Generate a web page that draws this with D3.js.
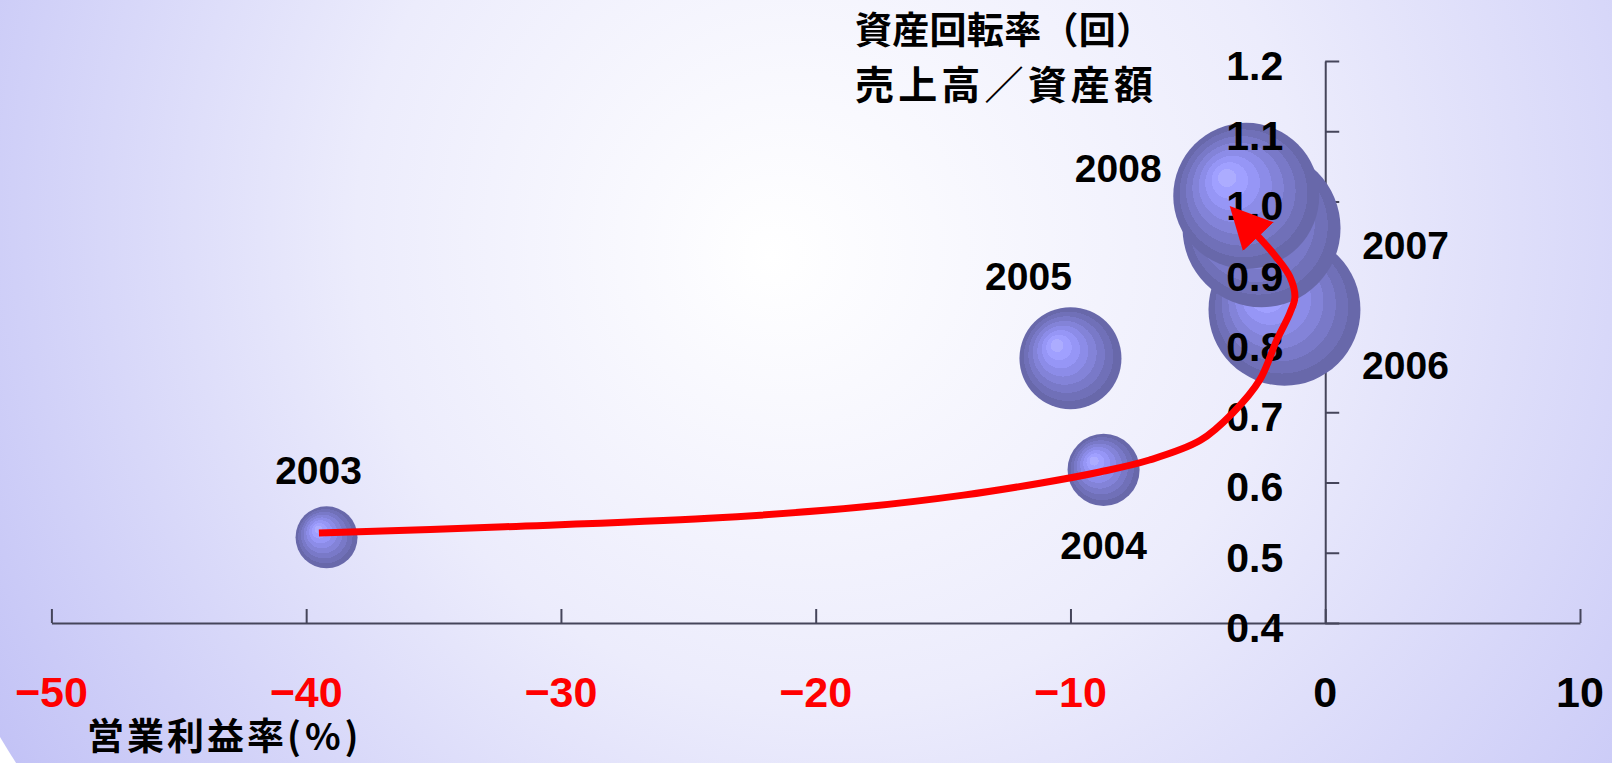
<!DOCTYPE html>
<html>
<head>
<meta charset="utf-8">
<script src="https://cdn.jsdelivr.net/npm/d3@7"></script>
<style>
  body { margin: 0; overflow: hidden; background: #fff; }
</style>
</head>
<body>
<div id="chart"></div>
<script>
// data
var years = ["2003", "2004", "2005", "2006", "2007", "2008"];
var opMargin = [-39.2, -8.7, -10.0, -1.6, -2.5, -3.1];        // 営業利益率(%)
var turnover = [0.522, 0.618, 0.777, 0.846, 0.962, 1.008];    // 資産回転率
var bubbleSize = [154, 208, 417, 925, 1000, 854];             // relative bubble size
var xTicks = [-50, -40, -30, -20, -10, 0, 10];
var yTicks = [0.4, 0.5, 0.6, 0.7, 0.8, 0.9, 1.0, 1.1, 1.2];
// trend arrow, in data units
var trendX = [-39.5, -32.2, -24.2, -18.2, -14.2, -11.2, -8.85, -6.9, -4.9, -3.63, -2.57, -1.9, -1.39, -1.19, -1.39, -1.95, -2.68];
var trendY = [0.528, 0.537, 0.549, 0.565, 0.582, 0.599, 0.615, 0.632, 0.660, 0.699, 0.746, 0.803, 0.841, 0.864, 0.893, 0.922, 0.952];

var width = 1612, height = 763;

var svg = d3.select("#chart").append("svg")
    .attr("width", width)
    .attr("height", height);

var defs = svg.append("defs");

// background glow
var bg = defs.append("radialGradient")
    .attr("id", "bg")
    .attr("gradientUnits", "userSpaceOnUse")
    .attr("cx", 900).attr("cy", 200).attr("r", 1048)
    .attr("fx", 770).attr("fy", 257);
bg.append("stop").attr("offset", 0).attr("stop-color", "#ffffff");
bg.append("stop").attr("offset", 0.45).attr("stop-color", "#ececfc");
bg.append("stop").attr("offset", 1).attr("stop-color", "#c3c3f6");

// banded bubble shading
var ball = defs.append("radialGradient")
    .attr("id", "ball")
    .attr("cx", 0.5).attr("cy", 0.5).attr("r", 0.5)
    .attr("fx", 0.35).attr("fy", 0.36);
var bands = ["#acacff", "#a0a0ff", "#9696f6", "#8c8ce8", "#8383d8", "#7979c8", "#7070b8", "#6868aa"];
bands.forEach(function(c, i) {
  ball.append("stop").attr("offset", i / bands.length).attr("stop-color", c);
  ball.append("stop").attr("offset", (i + 1) / bands.length).attr("stop-color", c);
});

defs.append("marker")
    .attr("id", "head")
    .attr("markerUnits", "userSpaceOnUse")
    .attr("viewBox", "0 -21 42 42")
    .attr("refX", 2).attr("refY", 0)
    .attr("markerWidth", 42).attr("markerHeight", 42)
    .attr("orient", "auto")
  .append("path")
    .attr("d", "M0,-21L42,0L0,21Z")
    .attr("fill", "#ff0000");

svg.append("rect").attr("width", width).attr("height", height).attr("fill", "#fff");
svg.append("circle").attr("cx", 900).attr("cy", 200).attr("r", 1048).attr("fill", "url(#bg)");

var x = d3.scaleLinear().domain([-50, 10]).range([51.4, 1580]);
var y = d3.scaleLinear().domain([0.4, 1.2]).range([623, 61]);
var r = d3.scaleSqrt().domain([0, 1000]).range([0, 79]);

var numFont = "'Liberation Sans', Arial, sans-serif";
var jpFont = "'Noto Sans CJK JP', sans-serif";

// axes
var xAxis = svg.append("g")
    .attr("transform", "translate(0," + y(0.4) + ")")
    .call(d3.axisTop(x).tickValues(xTicks).tickSize(14).tickSizeOuter(0).tickFormat(""));
var yAxis = svg.append("g")
    .attr("transform", "translate(" + x(0) + ",0)")
    .call(d3.axisRight(y).tickValues(yTicks).tickSize(14).tickSizeOuter(0).tickFormat(""));
[xAxis, yAxis].forEach(function(a) {
  a.select(".domain").attr("stroke", "#45455a").attr("stroke-width", 2);
  a.selectAll(".tick line").attr("stroke", "#45455a").attr("stroke-width", 2);
});

// bubbles
var pts = years.map(function(d, i) {
  return { year: d, x: opMargin[i], y: turnover[i], s: bubbleSize[i] };
});

svg.append("g").selectAll("circle")
    .data(pts)
  .enter().append("circle")
    .attr("cx", function(d) { return x(d.x); })
    .attr("cy", function(d) { return y(d.y); })
    .attr("r", function(d) { return r(d.s); })
    .attr("fill", "url(#ball)");

// year labels: nudge from bubble centre
var labelNudge = {
  "2003": [-8, -67], "2004": [0, 75], "2005": [-42, -82],
  "2006": [121, 55], "2007": [144, 17], "2008": [-128, -28]
};
svg.append("g").selectAll("text")
    .data(pts)
  .enter().append("text")
    .attr("x", function(d) { return x(d.x) + labelNudge[d.year][0]; })
    .attr("y", function(d) { return y(d.y) + labelNudge[d.year][1]; })
    .attr("dy", "0.36em")
    .attr("text-anchor", "middle")
    .attr("font-family", numFont)
    .attr("font-weight", "bold")
    .attr("font-size", 39)
    .attr("fill", "#000")
    .text(function(d) { return d.year; });

// y tick labels (drawn over the bubbles)
svg.append("g").selectAll("text")
    .data(yTicks)
  .enter().append("text")
    .attr("x", x(0) - 42)
    .attr("y", function(d) { return y(d) + 4; })
    .attr("dy", "0.36em")
    .attr("text-anchor", "end")
    .attr("font-family", numFont)
    .attr("font-weight", "bold")
    .attr("font-size", 41)
    .attr("fill", "#000")
    .text(function(d) { return d.toFixed(1); });

// x tick labels
svg.append("g").selectAll("text")
    .data(xTicks)
  .enter().append("text")
    .attr("x", function(d) { return x(d); })
    .attr("y", y(0.4) + 69)
    .attr("dy", "0.36em")
    .attr("text-anchor", "middle")
    .attr("font-family", numFont)
    .attr("font-weight", "bold")
    .attr("font-size", 43)
    .attr("fill", function(d) { return d < 0 ? "#ff0000" : "#000"; })
    .text(function(d) { return d < 0 ? "\u2212" + Math.abs(d) : d; });

// axis titles
var xTitle = svg.append("text")
    .attr("x", 87).attr("y", 750)
    .attr("font-family", jpFont)
    .attr("font-weight", "bold")
    .attr("font-size", 37);
xTitle.append("tspan").attr("letter-spacing", 3).text("営業利益率");
xTitle.append("tspan").attr("letter-spacing", 4).text("(%)");

var yTitle = ["資産回転率（回）", "売上高／資産額"];
svg.append("g").selectAll("text")
    .data(yTitle)
  .enter().append("text")
    .attr("x", 855)
    .attr("y", function(d, i) { return 31 + i * 54; })
    .attr("dy", "0.36em")
    .attr("font-family", jpFont)
    .attr("font-weight", "bold")
    .attr("font-size", function(d, i) { return i ? 39 : 37; })
    .attr("textLength", 298)
    .attr("lengthAdjust", "spacing")
    .text(function(d) { return d; });

// trend arrow
var trend = trendX.map(function(v, i) { return [v, trendY[i]]; });
var line = d3.line()
    .x(function(d) { return x(d[0]); })
    .y(function(d) { return y(d[1]); })
    .curve(d3.curveCatmullRom.alpha(0.5));

svg.append("path")
    .attr("d", line(trend))
    .attr("fill", "none")
    .attr("stroke", "#ff0000")
    .attr("stroke-width", 7)
    .attr("marker-end", "url(#head)");
</script>
</body>
</html>
